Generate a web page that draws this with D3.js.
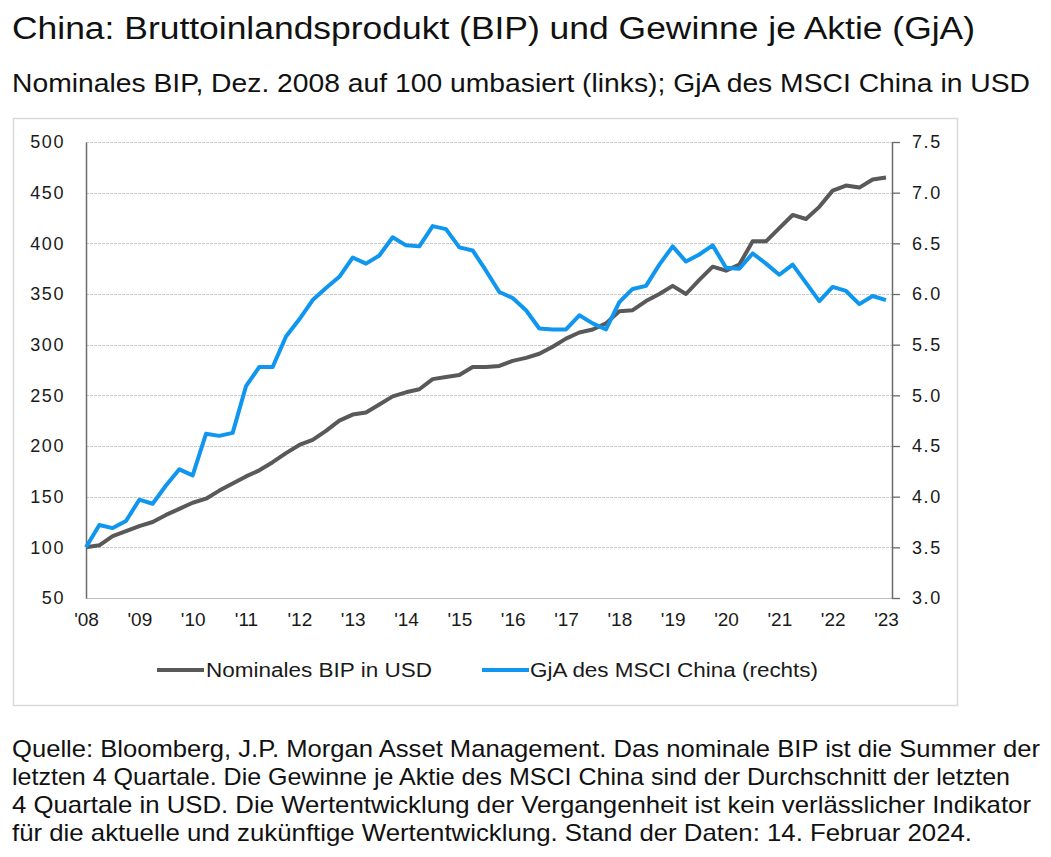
<!DOCTYPE html>
<html>
<head>
<meta charset="utf-8">
<script src="https://cdn.jsdelivr.net/npm/d3@7"></script>
<style>
  html, body { margin: 0; padding: 0; background: #fff; }
  svg { display: block; }
</style>
</head>
<body>
<svg id="chart" width="1051" height="857"></svg>
<script>
// ---- Data (quarterly, Q4 2008 .. Q4 2023) ----
const yearLabels = ["'08","'09","'10","'11","'12","'13","'14","'15","'16","'17","'18","'19","'20","'21","'22","'23"];
const gdp = [100,102,111,116,121,125,132,138,144,148,156,163,170,176,184,193,201,206,215,225,231,233,241,249,253,256,266,268,270,278,278,279,284,287,291,298,306,312,315,321,333,334,343,350,358,350,364,377,373,379,402,402,415,428,424,436,452,457,455,463,465];
const eps = [3.50,3.72,3.69,3.76,3.97,3.93,4.11,4.27,4.21,4.62,4.60,4.63,5.09,5.28,5.28,5.58,5.75,5.94,6.06,6.17,6.36,6.30,6.38,6.56,6.48,6.47,6.67,6.64,6.46,6.43,6.23,6.02,5.96,5.84,5.66,5.65,5.65,5.79,5.71,5.65,5.92,6.05,6.08,6.29,6.47,6.32,6.39,6.48,6.26,6.25,6.40,6.30,6.19,6.29,6.11,5.93,6.07,6.03,5.90,5.98,5.94];
const leftTicks = [50,100,150,200,250,300,350,400,450,500];
const rightTicks = [3.0,3.5,4.0,4.5,5.0,5.5,6.0,6.5,7.0,7.5];
const seriesNames = ["Nominales BIP in USD", "GjA des MSCI China (rechts)"];
const titleText = "China: Bruttoinlandsprodukt (BIP) und Gewinne je Aktie (GjA)";
const subtitleText = "Nominales BIP, Dez. 2008 auf 100 umbasiert (links); GjA des MSCI China in USD";
const footLines = [
  "Quelle: Bloomberg, J.P. Morgan Asset Management. Das nominale BIP ist die Summer der",
  "letzten 4 Quartale. Die Gewinne je Aktie des MSCI China sind der Durchschnitt der letzten",
  "4 Quartale in USD. Die Wertentwicklung der Vergangenheit ist kein verlässlicher Indikator",
  "für die aktuelle und zukünftige Wertentwicklung. Stand der Daten: 14. Februar 2024."
];

// ---- Layout ----
const svg = d3.select("#chart");
const colGDP = "#595959", colEPS = "#0f96ef";
const plotL = 86, plotR = 892, plotT = 142, plotB = 598;
const textFont = "'Liberation Sans', Arial, sans-serif";

const x = d3.scaleLinear().domain([0, 60]).range([86, 886]);
const yL = d3.scaleLinear().domain([50, 500]).range([plotB, plotT]);
const yR = d3.scaleLinear().domain([3, 7.5]).range([plotB, plotT]);

// Title / subtitle
svg.append("text").attr("x", 12).attr("y", 39)
  .attr("font-family", textFont).attr("font-size", 31).attr("fill", "#111")
  .attr("textLength", 963).attr("lengthAdjust", "spacingAndGlyphs")
  .text(titleText);
svg.append("text").attr("x", 12).attr("y", 92)
  .attr("font-family", textFont).attr("font-size", 25).attr("fill", "#111")
  .attr("textLength", 1018).attr("lengthAdjust", "spacingAndGlyphs")
  .text(subtitleText);

// Chart border
svg.append("rect").attr("x", 13.5).attr("y", 118.5).attr("width", 944).attr("height", 587)
  .attr("fill", "none").attr("stroke", "#d9d9d9").attr("stroke-width", 1.5);

// Gridlines
svg.append("g").selectAll("line").data(leftTicks.filter(d => d > 50)).join("line")
  .attr("x1", plotL).attr("x2", plotR)
  .attr("y1", d => Math.round(yL(d)) + 0.5).attr("y2", d => Math.round(yL(d)) + 0.5)
  .attr("stroke", "#c8c8c8").attr("stroke-width", 1).attr("stroke-dasharray", "3,1");

// Bottom line
svg.append("line").attr("x1", plotL).attr("x2", plotR).attr("y1", plotB + 0.5).attr("y2", plotB + 0.5)
  .attr("stroke", "#bdbdbd").attr("stroke-width", 1.2);

// Left axis
const gL = svg.append("g").attr("transform", `translate(${plotL},0)`)
  .call(d3.axisLeft(yL).tickValues(leftTicks).tickSize(0).tickPadding(21).tickSizeOuter(0));
gL.select(".domain").attr("stroke", "#6b6b6b").attr("stroke-width", 1.5);
gL.selectAll("text").attr("font-family", "'Liberation Sans', Arial, sans-serif").attr("font-size", 18)
  .attr("letter-spacing", 1.6).attr("fill", "#1a1a1a");

// Right axis
const gR = svg.append("g").attr("transform", `translate(${plotR},0)`)
  .call(d3.axisRight(yR).tickValues(rightTicks).tickFormat(d3.format(".1f")).tickSize(8).tickPadding(12).tickSizeOuter(0));
gR.select(".domain").attr("stroke", "#6b6b6b").attr("stroke-width", 1.5);
gR.selectAll(".tick line").attr("stroke", "#6b6b6b").attr("stroke-width", 1.3);
gR.selectAll("text").attr("font-family", "'Liberation Sans', Arial, sans-serif").attr("font-size", 18)
  .attr("letter-spacing", 1.6).attr("fill", "#1a1a1a");

// X axis labels
const gX = svg.append("g").attr("transform", `translate(0,${plotB})`)
  .call(d3.axisBottom(x).tickValues(d3.range(0, 61, 4)).tickFormat((d, i) => yearLabels[i]).tickSize(0).tickPadding(15));
gX.select(".domain").remove();
gX.selectAll("text").attr("font-family", "'Liberation Sans Narrow', 'Liberation Sans', Arial, sans-serif").attr("font-size", 19).attr("fill", "#1a1a1a");

// Lines
const lineL = d3.line().x((d, i) => x(i)).y(d => yL(d));
const lineR = d3.line().x((d, i) => x(i)).y(d => yR(d));
svg.append("path").datum(gdp).attr("d", lineL).attr("fill", "none")
  .attr("stroke", colGDP).attr("stroke-width", 4).attr("stroke-linejoin", "round");
svg.append("path").datum(eps).attr("d", lineR).attr("fill", "none")
  .attr("stroke", colEPS).attr("stroke-width", 4).attr("stroke-linejoin", "round");

// Legend
const legend = [
  {name: seriesNames[0], color: colGDP, x0: 157, tx: 206, w: 226},
  {name: seriesNames[1], color: colEPS, x0: 482, tx: 530, w: 288}
];
const lg = svg.append("g");
legend.forEach(l => {
  lg.append("line").attr("x1", l.x0).attr("x2", l.x0 + 47).attr("y1", 670).attr("y2", 670)
    .attr("stroke", l.color).attr("stroke-width", 4);
  lg.append("text").attr("x", l.tx).attr("y", 677)
    .attr("font-family", "'Liberation Sans Narrow', 'Liberation Sans', Arial, sans-serif")
    .attr("font-size", 20).attr("fill", "#1a1a1a")
    .attr("textLength", l.w).attr("lengthAdjust", "spacingAndGlyphs")
    .text(l.name);
});

// Footnote
const footW = [1028, 998, 1019, 960];
svg.append("g").selectAll("text").data(footLines).join("text")
  .attr("x", 12).attr("y", (d, i) => 757 + i * 28)
  .attr("font-family", textFont).attr("font-size", 24).attr("fill", "#111")
  .attr("textLength", (d, i) => footW[i]).attr("lengthAdjust", "spacingAndGlyphs")
  .text(d => d);
</script>
</body>
</html>
